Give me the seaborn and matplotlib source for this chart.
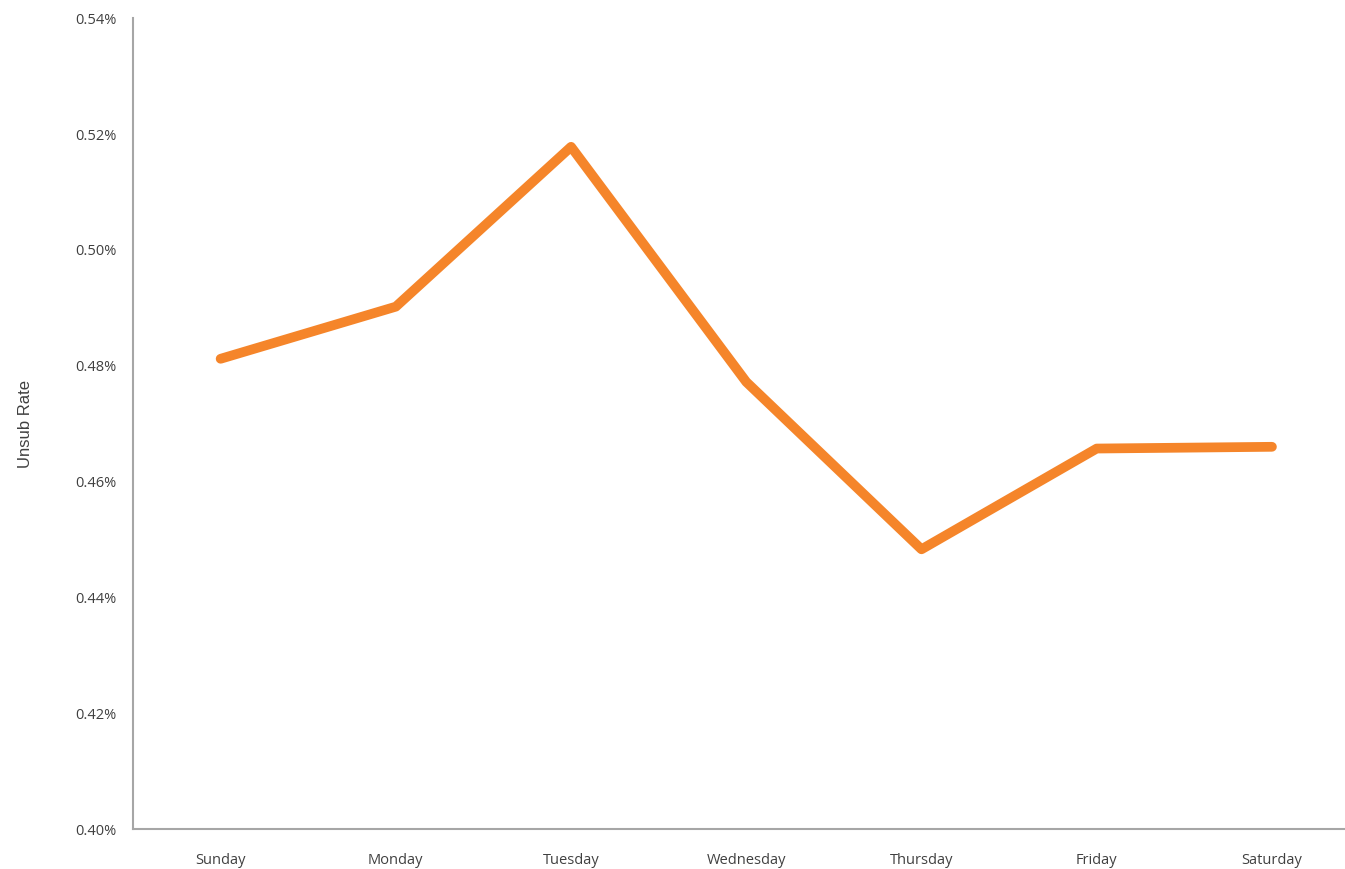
import matplotlib
matplotlib.use("Agg")
import matplotlib.pyplot as plt
import matplotlib.ticker as mticker
import seaborn as sns
import pandas as pd

days = ["Sunday", "Monday", "Tuesday", "Wednesday", "Thursday", "Friday", "Saturday"]
unsub_rate = [0.4812, 0.4902, 0.5178, 0.4772, 0.4483, 0.4657, 0.4660]

sns.set_theme(style="white")
plt.rcParams["font.family"] = ["Open Sans", "DejaVu Sans"]

df = pd.DataFrame({"day": days, "rate": unsub_rate})

fig = plt.figure(figsize=(13.45, 8.69), dpi=100)
ax = fig.add_axes([0.0989, 0.046, 0.9011, 0.933])
sns.lineplot(data=df, x="day", y="rate", sort=False, color="#F5852A",
             linewidth=7, ax=ax)

ax.set_ylim(0.40, 0.54)
ax.set_xlim(-0.5, 6.417)
ax.set_yticks([0.40, 0.42, 0.44, 0.46, 0.48, 0.50, 0.52, 0.54])
ax.yaxis.set_major_formatter(mticker.FuncFormatter(lambda v, p: f"{v:.2f}%"))
ax.tick_params(axis="both", length=0, labelsize=10.5, labelcolor="#404040", pad=12)
ax.tick_params(axis="x", pad=17)

ax.set_xlabel("")
ax.set_ylabel("Unsub Rate", fontsize=12, color="#404040", labelpad=30,
              family=["Liberation Sans", "DejaVu Sans"])

for s in ["top", "right"]:
    ax.spines[s].set_visible(False)
for s in ["left", "bottom"]:
    ax.spines[s].set_color("#A6A6A6")
    ax.spines[s].set_linewidth(1.5)

fig.savefig("out.png", dpi=100)
